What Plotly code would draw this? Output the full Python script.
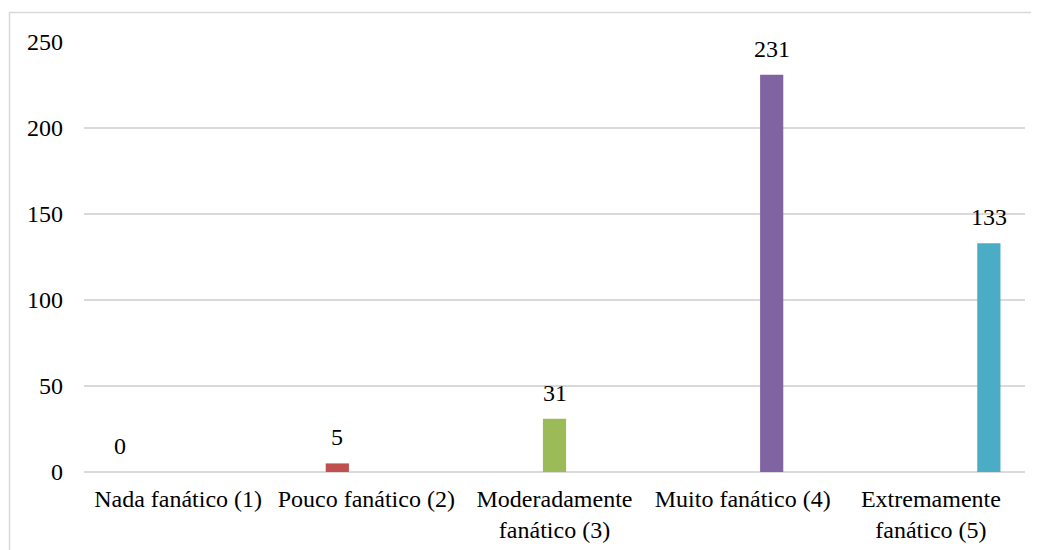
import plotly.graph_objects as go

categories = ["Nada fanático (1)", "Pouco fanático (2)", "Moderadamente<br>fanático (3)",
              "Muito fanático (4)", "Extremamente<br>fanático (5)"]
values = [0, 5, 31, 231, 133]
colors = ["#4F81BD", "#C0504D", "#9BBB59", "#8064A2", "#4BACC6"]
y_ticks = [0, 50, 100, 150, 200, 250]

FONT = "Liberation Serif, Times New Roman, serif"
OFF = 8  # page body margin
W, H = 1039 - OFF, 550 - OFF
ML, MR, MT, MB = 84 - OFF, 14, 42 - OFF, 78
BARGAP = 0.23
GROUPGAP = 0.2

fig = go.Figure()
n = len(categories)
for i, (cat, v, c) in enumerate(zip(categories, values, colors)):
    ys = [v if j == i else None for j in range(n)]
    fig.add_trace(go.Bar(x=categories, y=ys, marker=dict(color=c, line=dict(width=0)),
                         name=cat, hoverinfo="y"))

plot_w = W - ML - MR
slot = plot_w / n * (1 - BARGAP) / n
for i, (cat, v) in enumerate(zip(categories, values)):
    fig.add_annotation(x=cat, y=v, text=str(v), showarrow=False, xref="x", yref="y",
                       xanchor="center", yanchor="bottom", xshift=(i - (n - 1) / 2) * slot,
                       yshift=11, font=dict(family=FONT, size=24, color="#000000"))

plot_h = H - MT - MB
bx0, by0 = 9.5 - OFF, 12.5 - OFF
x0 = (bx0 - ML) / plot_w
x1 = (W + 5 - ML) / plot_w
y1 = (H - MB - by0) / plot_h
y0 = (H - MB - (H + 10)) / plot_h
fig.add_shape(type="rect", xref="paper", yref="paper", x0=x0, x1=x1, y0=y0, y1=y1,
              line=dict(color="#D9D9D9", width=1.5), fillcolor="rgba(0,0,0,0)", layer="below")

fig.update_layout(
    width=W, height=H,
    margin=dict(l=ML, r=MR, t=MT, b=MB, autoexpand=False),
    paper_bgcolor="white", plot_bgcolor="white",
    barmode="group", bargap=BARGAP, bargroupgap=GROUPGAP,
    showlegend=False,
    font=dict(family=FONT, size=24, color="#000000"),
    xaxis=dict(showgrid=False, showline=False, zeroline=False, ticks="outside",
               ticklen=5, tickcolor="rgba(0,0,0,0)", tickfont=dict(family=FONT, size=24, color="#000000")),
    yaxis=dict(range=[0, 250], tickvals=y_ticks, showgrid=True, gridcolor="#D9D9D9", gridwidth=1.5,
               zeroline=True, zerolinecolor="#D9D9D9", zerolinewidth=1.5, showline=False,
               ticks="", ticklabelstandoff=20, tickfont=dict(family=FONT, size=24, color="#000000")),
)

fig.write_html("out.html")
